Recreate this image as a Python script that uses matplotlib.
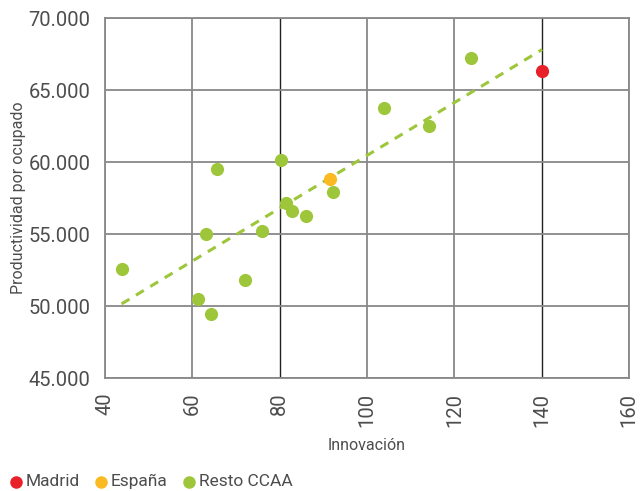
import numpy as np
import matplotlib.pyplot as plt
from matplotlib.ticker import FuncFormatter

plt.rcParams['font.family'] = ['Roboto', 'DejaVu Sans']

# datos
madrid_x = [140.1]
madrid_y = [66319]
espana_x = [91.5]
espana_y = [58819]
resto_x = [43.8, 61.3, 64.2, 72.1, 63.1, 65.6, 76.0, 80.2, 81.4, 82.9, 86.0,
           92.3, 103.9, 114.1, 123.7]
resto_y = [52549, 50486, 49444, 51806, 54977, 59514, 55208, 60118, 57130, 56620,
           56227, 57940, 63773, 62477, 67199]

c_madrid = '#E8202A'
c_espana = '#FBBA22'
c_resto = '#9DC63B'
txt = '#4d4d4d'

fig = plt.figure(figsize=(6.4, 4.91), dpi=100)
ax = fig.add_axes([0.164, 0.230, 0.819, 0.733])

# linea de tendencia sobre todos los puntos
all_x = np.array(madrid_x + espana_x + resto_x)
all_y = np.array(madrid_y + espana_y + resto_y)
m, b = np.polyfit(all_x, all_y, 1)
xs = np.array([all_x.min(), all_x.max()])
ax.plot(xs, m * xs + b, ls=(0, (3, 2.5)), color=c_resto, lw=2.2, zorder=2)

ax.scatter(resto_x, resto_y, s=90, color=c_resto, zorder=3, label='Resto CCAA', linewidths=0)
ax.scatter(espana_x, espana_y, s=90, color=c_espana, zorder=3, label='España', linewidths=0)
ax.scatter(madrid_x, madrid_y, s=90, color=c_madrid, zorder=3, label='Madrid', linewidths=0)

ax.set_xlim(40, 160)
ax.set_ylim(45000, 70000)
ax.set_xticks(range(40, 161, 20))
ax.set_yticks(range(45000, 70001, 5000))
ax.yaxis.set_major_formatter(FuncFormatter(lambda v, p: f'{int(v):,}'.replace(',', '.')))
ax.grid(True, color='#888888', lw=1.3)
# en el original las verticales de 80 y 140 salen mas oscuras
for gl, t in zip(ax.get_xgridlines(), ax.get_xticks()):
    if t in (80, 140):
        gl.set_color('#222222')
        gl.set_linewidth(1.0)
ax.set_axisbelow(True)
for s in ax.spines.values():
    s.set_color('#888888')
    s.set_linewidth(1.3)
ax.tick_params(length=0, labelsize=14.5, colors=txt, pad=10.5)
ax.tick_params(axis='x', labelrotation=90)

ax.set_xlabel('Innovación', fontsize=11.5, color=txt, labelpad=8)
ax.set_ylabel('Productividad por ocupado', fontsize=11.5, color=txt, labelpad=2)

h, l = ax.get_legend_handles_labels()
order = [2, 1, 0]
fig.legend([h[i] for i in order], [l[i] for i in order], loc='lower left',
           bbox_to_anchor=(-0.012, -0.028), ncol=3, frameon=False,
           prop={'size': 12.5}, handlelength=0.9,
           handletextpad=0.1, columnspacing=0.8, markerscale=0.95, labelcolor=txt)

fig.savefig('out.png', dpi=100)
